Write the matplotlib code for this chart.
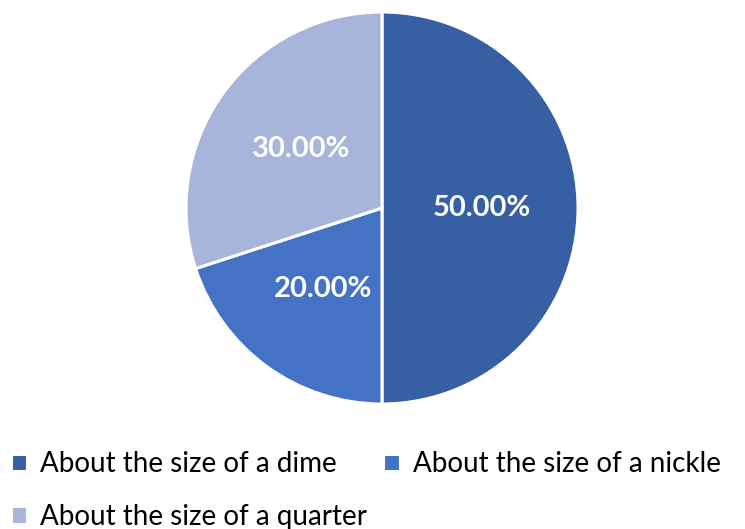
import matplotlib.pyplot as plt

labels = ["About the size of a dime", "About the size of a nickle", "About the size of a quarter"]
shares = [50, 20, 30]
colors = ["#375FA3", "#4473C5", "#A7B5DA"]

plt.rcParams['font.family'] = ['Lato', 'DejaVu Sans']

fig = plt.figure(figsize=(7.45, 5.29), dpi=100)
# pie centred at about (382, 208) px, radius ~196 px
ax = fig.add_axes([(382 - 196) / 745, (321 - 196) / 529, 392 / 745, 392 / 529])

wedges, texts, autotexts = ax.pie(
    shares, colors=colors, startangle=90, counterclock=False,
    autopct="%.2f%%", pctdistance=0.51, radius=1.0,
    wedgeprops=dict(edgecolor="white", linewidth=2.2),
    textprops=dict(color="white", fontsize=21, fontweight="bold"))
ax.set_xlim(-1, 1)
ax.set_ylim(-1, 1)
ax.set_aspect("equal")

# legend fills column by column, so reorder to read dime, nickle / quarter
order = [0, 2, 1]
fig.legend([wedges[i] for i in order], [labels[i] for i in order],
           ncol=2, loc="upper left",
           bbox_to_anchor=(0.003, 1 - 443 / 529), frameon=False,
           fontsize=20, handlelength=0.6, handleheight=0.6,
           handletextpad=0.45, columnspacing=0.6, labelspacing=0.95,
           borderaxespad=0.0, borderpad=0.3)

fig.savefig("out.png", dpi=100)
